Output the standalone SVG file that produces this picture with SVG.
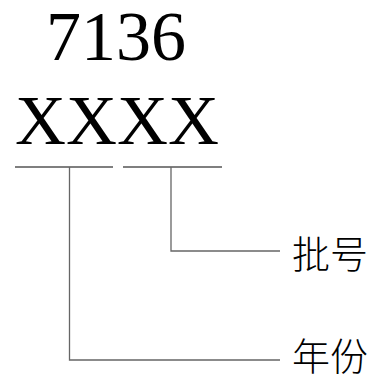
<svg xmlns="http://www.w3.org/2000/svg" width="376" height="381" viewBox="0 0 376 381">
<style>
.num{font-family:"Liberation Serif","Times New Roman",serif;fill:#000}
.cjk{font-family:"Noto Sans CJK SC",sans-serif;font-size:38px;fill:#000;font-weight:300}
.ul{stroke:#000;stroke-width:1.2;fill:none}
.ld{stroke:#666;stroke-width:1.3;fill:none}
</style>
<rect width="376" height="381" fill="#fff"/>
<g id="code-top"><text class="num" x="46" y="60" font-size="70">7136</text></g>
<g id="code-x"><text class="num" x="15" y="144" font-size="70" textLength="204" lengthAdjust="spacingAndGlyphs">XXXX</text></g>
<g id="underlines">
<line class="ul" x1="15" y1="167" x2="113" y2="167"/>
<line class="ul" x1="123" y1="167" x2="222" y2="167"/>
</g>
<g id="connectors">
<polyline class="ld" points="69.5,167 69.5,360 280,360"/>
<polyline class="ld" points="171,167 171,251 280,251"/>
</g>
<g id="label-batch"><text class="cjk" x="292" y="268">批号</text></g>
<g id="label-year"><text class="cjk" x="292" y="370">年份</text></g>
</svg>
